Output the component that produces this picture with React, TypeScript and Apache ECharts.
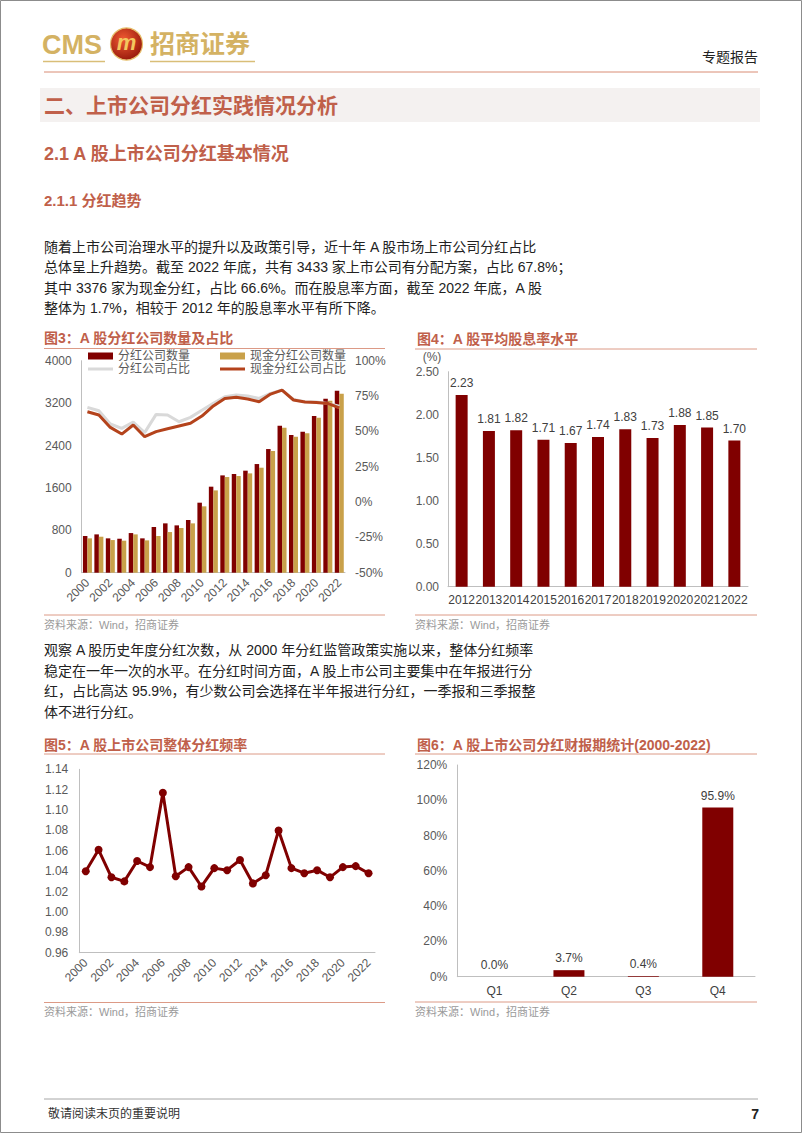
import React, { useEffect, useRef } from "react";
import * as echarts from "echarts";

// ---------- Data ----------
const years: string[] = [
  "2000", "2001", "2002", "2003", "2004", "2005", "2006", "2007", "2008", "2009", "2010", "2011",
  "2012", "2013", "2014", "2015", "2016", "2017", "2018", "2019", "2020", "2021", "2022",
];
const divCount: number[] = [692, 723, 648, 641, 748, 648, 862, 931, 893, 994, 1321, 1623, 1836, 1862, 1925, 2050, 2333, 2774, 2597, 2660, 2956, 3283, 3433];
const cashCount: number[] = [648, 679, 616, 604, 723, 610, 692, 767, 843, 931, 1252, 1553, 1805, 1824, 1874, 1981, 2296, 2736, 2566, 2629, 2925, 3245, 3376];
const divRatio: number[] = [67, 64.6, 55.2, 52.1, 56.6, 49.1, 62, 61.6, 56.8, 59.9, 65, 69.8, 74.5, 75.7, 75, 73.3, 76.9, 79.2, 72.6, 71, 70.8, 69.8, 67.8];
const cashRatio: number[] = [63.9, 61.6, 52.8, 48.1, 54.5, 46.2, 49.8, 51.9, 53.8, 55.7, 60.8, 68, 73.3, 74.1, 72.9, 71, 76.4, 79.2, 72.2, 70.8, 70.5, 69.8, 66.6];

const yieldYears: string[] = ["2012", "2013", "2014", "2015", "2016", "2017", "2018", "2019", "2020", "2021", "2022"];
const yieldValues: number[] = [2.23, 1.81, 1.82, 1.71, 1.67, 1.74, 1.83, 1.73, 1.88, 1.85, 1.7];

const freqValues: number[] = [1.04, 1.061, 1.034, 1.03, 1.05, 1.044, 1.117, 1.035, 1.044, 1.025, 1.043, 1.041, 1.051, 1.028, 1.036, 1.08, 1.043, 1.038, 1.041, 1.034, 1.044, 1.045, 1.038];

const quarters: string[] = ["Q1", "Q2", "Q3", "Q4"];
const quarterShare: number[] = [0.0, 3.7, 0.4, 95.9];

const para1: string[] = [
  "随着上市公司治理水平的提升以及政策引导，近十年 A 股市场上市公司分红占比",
  "总体呈上升趋势。截至 2022 年底，共有 3433 家上市公司有分配方案，占比 67.8%；",
  "其中 3376 家为现金分红，占比 66.6%。而在股息率方面，截至 2022 年底，A 股",
  "整体为 1.7%，相较于 2012 年的股息率水平有所下降。",
];
const para2: string[] = [
  "观察 A 股历史年度分红次数，从 2000 年分红监管政策实施以来，整体分红频率",
  "稳定在一年一次的水平。在分红时间方面，A 股上市公司主要集中在年报进行分",
  "红，占比高达 95.9%，有少数公司会选择在半年报进行分红，一季报和三季报整",
  "体不进行分红。",
];

// ---------- Styles ----------
const FONT = '"Liberation Sans", Arial, "Noto Sans CJK SC", sans-serif';
const TITLE = "#C0604A";
const RULE = "#DC9A86";
const MAROON = "#800000";
const AXIS = "#BFBFBF";
const LABEL = "#595959";

function txt(text: string, x: number, y: number, size: number, fill: string, weight: string = "normal", align: string = "left") {
  return {
    type: "text",
    style: {
      text, x, y, fill,
      fontSize: size, fontFamily: FONT, fontWeight: weight,
      textAlign: align, align, textVerticalAlign: "middle", verticalAlign: "middle",
    },
  };
}
function hline(x1: number, x2: number, y: number, stroke: string, w: number = 1) {
  return { type: "line", shape: { x1, y1: y, x2, y2: y }, style: { stroke, lineWidth: w } };
}

export default function App() {
  const ref = useRef<HTMLDivElement>(null);
  useEffect(() => {
    if (!ref.current) return;
    const chart = echarts.init(ref.current, null, { renderer: "svg" });

    const graphics: any[] = [
      { type: "rect", shape: { x: 0.5, y: 0.5, width: 801, height: 1132 }, style: { fill: "none", stroke: "#8C8C8C", lineWidth: 1 } },
      // logo
      txt("CMS", 42, 45, 27, "#D4B263", "bold"),
      {
        type: "circle", shape: { cx: 126.5, cy: 44, r: 16 },
        style: {
          fill: new echarts.graphic.RadialGradient(0.4, 0.35, 0.75, [
            { offset: 0, color: "#F05A32" }, { offset: 1, color: "#8E1208" },
          ]),
          stroke: "#E6BE6A", lineWidth: 1.2,
        },
      },
      {
        type: "text",
        style: { text: "m", x: 126.5, y: 42, fill: "#F3C85E", fontSize: 22, fontWeight: "bold", fontStyle: "italic", fontFamily: FONT, textAlign: "center", align: "center", textVerticalAlign: "middle", verticalAlign: "middle" },
      },
      txt("招商证券", 150, 44, 25, "#D4B263", "bold"),
      hline(43, 105, 61.5, "#D9BE78", 1.5),
      hline(150, 255, 61.5, "#D9BE78", 1.5),
      txt("专题报告", 758, 57, 14, "#222222", "normal", "right"),
      hline(44, 758, 72, "#D98C74", 1),
      // section headings
      { type: "rect", shape: { x: 40, y: 88, width: 720, height: 34 }, style: { fill: "#F4F1F0" } },
      txt("二、上市公司分红实践情况分析", 44, 105, 21, TITLE, "bold"),
      txt("2.1 A 股上市公司分红基本情况", 44, 154, 18, TITLE, "bold"),
      txt("2.1.1 分红趋势", 44, 200, 15, TITLE, "bold"),
      // chart frames
      txt("图3：A 股分红公司数量及占比", 44, 338, 14, TITLE, "bold"),
      hline(44, 385, 348.5, RULE, 1),
      hline(44, 385, 615, RULE, 1),
      txt("资料来源：Wind，招商证券", 44, 625, 11, "#9A9A9A"),
      txt("图4：A 股平均股息率水平", 417, 339, 14, TITLE, "bold"),
      hline(415, 757, 349, RULE, 1),
      hline(415, 757, 615, RULE, 1),
      txt("资料来源：Wind，招商证券", 415, 625, 11, "#9A9A9A"),
      txt("(%)", 432, 357, 12, LABEL, "normal", "center"),
      txt("图5：A 股上市公司整体分红频率", 44, 745, 14, TITLE, "bold"),
      hline(44, 385, 754, RULE, 1),
      hline(44, 385, 1002.5, RULE, 1),
      txt("资料来源：Wind，招商证券", 44, 1012, 11, "#9A9A9A"),
      txt("图6：A 股上市公司分红财报期统计(2000-2022)", 417, 745, 14, TITLE, "bold"),
      hline(415, 757, 754, RULE, 1),
      hline(415, 757, 1002, RULE, 1),
      txt("资料来源：Wind，招商证券", 415, 1012, 11, "#9A9A9A"),
      // footer
      hline(44, 758, 1099, "#A6A6A6", 1),
      txt("敬请阅读末页的重要说明", 48, 1114, 12, "#333333"),
      txt("7", 759, 1114, 14, "#222222", "bold", "right"),
    ];
    const p1y = [246.5, 267, 287.5, 308];
    para1.forEach((t, i) => graphics.push(txt(t, 44, p1y[i], 14, "#222222")));
    const p2y = [650, 670.5, 691, 711.5];
    para2.forEach((t, i) => graphics.push(txt(t, 44, p2y[i], 14, "#222222")));

    const axisLabel = { fontSize: 12, color: LABEL, fontFamily: FONT };
    const legendBase = { icon: "rect", itemWidth: 25, textStyle: { fontSize: 12, color: LABEL, fontFamily: FONT }, padding: 0 };

    const option: any = {
      animation: false,
      backgroundColor: "#ffffff",
      graphic: graphics,
      legend: [
        { ...legendBase, left: 88, top: 350, itemHeight: 7, data: ["分红公司数量"] },
        { ...legendBase, left: 220, top: 350, itemHeight: 7, data: ["现金分红公司数量"] },
        { ...legendBase, left: 88, top: 363, itemHeight: 3, data: ["分红公司占比"] },
        { ...legendBase, left: 220, top: 363, itemHeight: 3, data: ["现金分红公司占比"] },
      ],
      grid: [
        { left: 81.7, top: 360.7, width: 263.3, height: 212 },
        { left: 448, top: 371.7, width: 300, height: 215 },
        { left: 79.3, top: 769.3, width: 295.7, height: 183.4 },
        { left: 457.3, top: 765, width: 297.7, height: 211.7 },
      ],
      xAxis: [
        {
          type: "category", gridIndex: 0, data: years,
          axisTick: { show: false }, axisLine: { lineStyle: { color: AXIS } },
          axisLabel: { ...axisLabel, interval: 1, rotate: 45 },
        },
        {
          type: "category", gridIndex: 1, data: yieldYears,
          axisTick: { show: false }, axisLine: { lineStyle: { color: AXIS } },
          axisLabel: { ...axisLabel, color: "#404040", interval: 0, margin: 7 },
        },
        {
          type: "category", gridIndex: 2, data: years,
          axisTick: { show: false }, axisLine: { lineStyle: { color: AXIS } },
          axisLabel: { ...axisLabel, interval: 1, rotate: 45 },
        },
        {
          type: "category", gridIndex: 3, data: quarters,
          axisTick: { show: false }, axisLine: { lineStyle: { color: AXIS } },
          axisLabel: { ...axisLabel, color: "#404040", margin: 8 },
        },
      ],
      yAxis: [
        {
          type: "value", gridIndex: 0, min: 0, max: 4000, interval: 800,
          splitLine: { show: false }, axisTick: { show: false },
          axisLine: { show: true, lineStyle: { color: AXIS } },
          axisLabel: { ...axisLabel, margin: 10, formatter: (v: number) => String(v) },
        },
        {
          type: "value", gridIndex: 0, position: "right", min: -50, max: 100, interval: 25,
          splitLine: { show: false }, axisTick: { show: false }, axisLine: { show: false },
          axisLabel: { ...axisLabel, margin: 10, formatter: "{value}%" },
        },
        {
          type: "value", gridIndex: 1, min: 0, max: 2.5, interval: 0.5,
          splitLine: { show: false }, axisTick: { show: false },
          axisLine: { show: true, lineStyle: { color: AXIS } },
          axisLabel: { ...axisLabel, margin: 9, formatter: (v: number) => v.toFixed(2) },
        },
        {
          type: "value", gridIndex: 2, min: 0.96, max: 1.14, interval: 0.02,
          splitLine: { show: false }, axisTick: { show: false },
          axisLine: { show: true, lineStyle: { color: AXIS } },
          axisLabel: { ...axisLabel, margin: 11, formatter: (v: number) => v.toFixed(2) },
        },
        {
          type: "value", gridIndex: 3, min: 0, max: 120, interval: 20,
          splitLine: { show: false }, axisTick: { show: false },
          axisLine: { show: true, lineStyle: { color: AXIS } },
          axisLabel: { ...axisLabel, margin: 10, formatter: "{value}%" },
        },
      ],
      series: [
        {
          name: "分红公司数量", type: "bar", xAxisIndex: 0, yAxisIndex: 0, data: divCount,
          barWidth: 4.5, barGap: "0%", itemStyle: { color: MAROON },
        },
        {
          name: "现金分红公司数量", type: "bar", xAxisIndex: 0, yAxisIndex: 0, data: cashCount,
          barWidth: 4.5, barGap: "0%", itemStyle: { color: "#C9A14A" },
        },
        {
          name: "分红公司占比", type: "line", xAxisIndex: 0, yAxisIndex: 1, data: divRatio,
          symbol: "none", itemStyle: { color: "#D9D9D9" }, lineStyle: { color: "#D9D9D9", width: 3 },
        },
        {
          name: "现金分红公司占比", type: "line", xAxisIndex: 0, yAxisIndex: 1, data: cashRatio,
          symbol: "none", itemStyle: { color: "#B4431C" }, lineStyle: { color: "#B4431C", width: 3 },
        },
        {
          name: "股息率", type: "bar", xAxisIndex: 1, yAxisIndex: 2, data: yieldValues,
          barWidth: 12, itemStyle: { color: MAROON },
          label: {
            show: true, position: "top", distance: 6, fontSize: 12, color: "#404040", fontFamily: FONT,
            formatter: (p: any) => Number(p.value).toFixed(2),
          },
        },
        {
          name: "分红频率", type: "line", xAxisIndex: 2, yAxisIndex: 3, data: freqValues,
          symbol: "circle", symbolSize: 8,
          itemStyle: { color: MAROON }, lineStyle: { color: MAROON, width: 3 },
        },
        {
          name: "财报期占比", type: "bar", xAxisIndex: 3, yAxisIndex: 4, data: quarterShare,
          barWidth: 31, itemStyle: { color: MAROON },
          label: {
            show: true, position: "top", distance: 6, fontSize: 12, color: "#404040", fontFamily: FONT,
            formatter: (p: any) => Number(p.value).toFixed(1) + "%",
          },
        },
      ],
    };
    chart.setOption(option);
    return () => chart.dispose();
  }, []);

  return (
    <div
      ref={ref}
      style={{ position: "absolute", left: 0, top: 0, width: 802, height: 1133, background: "#ffffff" }}
    />
  );
}
